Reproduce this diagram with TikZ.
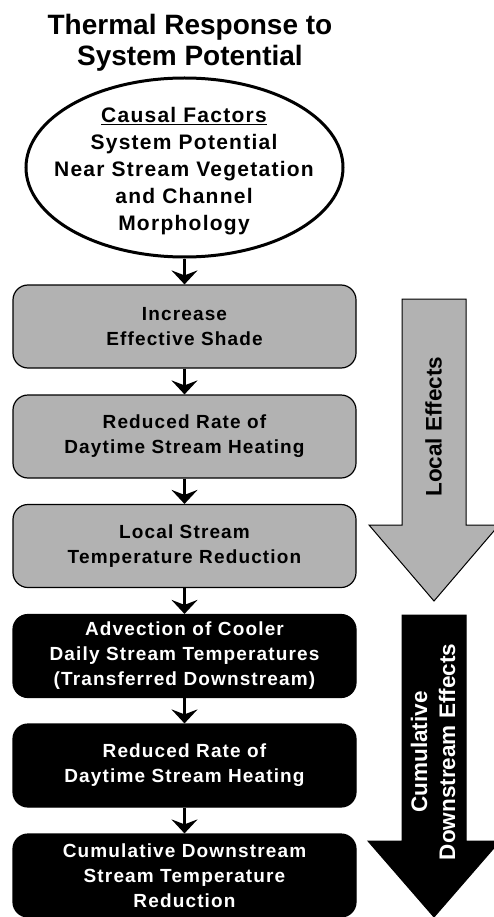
\documentclass[tikz,border=0pt]{standalone}
\usepackage{fontspec}
\setmainfont{Liberation Sans}
\newfontfamily\spacedfont{Liberation Sans}[LetterSpace=6]
\usetikzlibrary{arrows.meta,shapes.geometric}
\definecolor{boxgray}{RGB}{178,178,178}
\begin{document}
\begin{tikzpicture}[x=1pt,y=-1pt,
  graybox/.style={draw=black, line width=1.2pt, fill=boxgray, rounded corners=15pt,
    minimum width=343pt, minimum height=83pt, align=center, inner sep=0pt,
    font=\spacedfont\bfseries\fontsize{19}{25}\selectfont},
  blackbox/.style={graybox, fill=black, text=white},
  conn/.style={line width=2.5pt, -{Stealth[length=14pt,width=26pt,inset=5pt]}},
  titletext/.style={align=center, inner sep=0pt, font=\bfseries\fontsize{28}{31}\selectfont},
  causetext/.style={align=center, inner sep=0pt, font=\spacedfont\bfseries\fontsize{21}{27}\selectfont},
  causeshape/.style={ellipse, draw=black, line width=3pt, minimum width=317pt, minimum height=179pt, inner sep=0pt},
  arrowtext/.style={align=center, inner sep=0pt, rotate=90, font=\bfseries\fontsize{22.5}{28}\selectfont},
  blockarrow/.style={draw=black, line width=1pt}
]
\useasboundingbox (0,0) rectangle (494,917);

\node[titletext] (title) at (190,42.3) {Thermal Response to\\System Potential};

\node[causeshape] (cause) at (184.5,167.5) {};
\node[causetext] (causelabel) at (184,171) {\underline{Causal Factors}\\System Potential\\Near Stream Vegetation\\and Channel\\Morphology};

\node[graybox] (b1) at (184.5,326.5) {Increase\\Effective Shade};
\node[graybox] (b2) at (184.5,436.5) {Reduced Rate of\\Daytime Stream Heating};
\node[graybox] (b3) at (184.5,546) {Local Stream\\Temperature Reduction};
\node[blackbox] (b4) at (184.5,656) {Advection of Cooler\\Daily Stream Temperatures\\(Transferred Downstream)};
\node[blackbox] (b5) at (184.5,765.5) {Reduced Rate of\\Daytime Stream Heating};
\node[blackbox] (b6) at (184.5,875.5) {Cumulative Downstream\\Stream Temperature\\Reduction};

\draw[conn] (cause.south) -- (b1.north);
\draw[conn] (b1.south) -- (b2.north);
\draw[conn] (b2.south) -- (b3.north);
\draw[conn] (b3.south) -- (b4.north);
\draw[conn] (b4.south) -- (b5.north);
\draw[conn] (b5.south) -- (b6.north);

\draw[blockarrow, fill=boxgray] (402,299) -- (466,299) -- (466,525) -- (499,525) -- (434,601) -- (369,525) -- (402,525) -- cycle;
\draw[blockarrow, fill=black] (402,615) -- (466,615) -- (466,841) -- (500,841) -- (434,917) -- (368,841) -- (402,841) -- cycle;

\node[arrowtext] (localtext) at (433.5,426.5) {Local Effects};
\node[arrowtext, text=white] (cumtext) at (433,752) {Cumulative\\Downstream Effects};
\end{tikzpicture}
\end{document}
